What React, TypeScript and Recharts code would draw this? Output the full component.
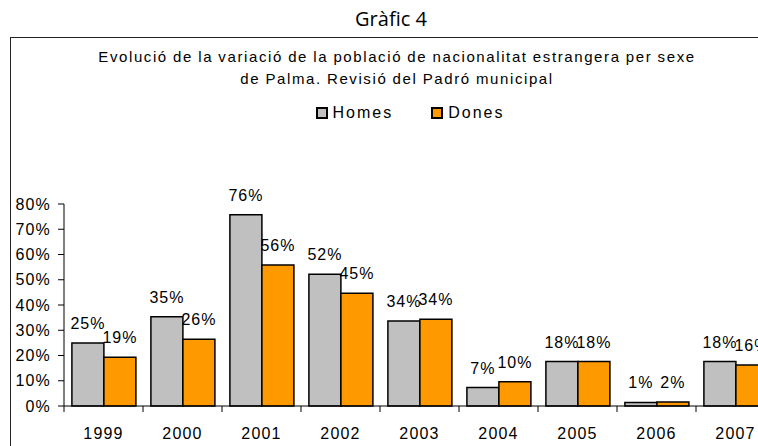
import React from 'react';
import { BarChart, Bar, XAxis, YAxis, LabelList, Legend } from 'recharts';

const years = ['1999', '2000', '2001', '2002', '2003', '2004', '2005', '2006', '2007'];
const homes = [25.0, 35.3, 75.7, 52.2, 33.7, 7.3, 17.6, 1.4, 17.6];
const dones = [19.3, 26.4, 55.8, 44.7, 34.4, 9.6, 17.6, 1.6, 16.2];
const yTicks = [0, 10, 20, 30, 40, 50, 60, 70, 80];
const seriesNames = ['Homes', 'Dones'];
const colors = ['#C0C0C0', '#FF9900'];

const data = years.map((y, i) => ({ year: y, Homes: homes[i], Dones: dones[i] }));

const FONT = '"Liberation Sans", Arial, sans-serif';

const XTick = (props: any) => {
  const { x, y, payload } = props;
  const off = payload.offset || 0;
  return (
    <g>
      <line x1={x - off} x2={x - off} y1={y} y2={y + 6} stroke="#000" strokeWidth={1} />
      <text x={x} y={y + 33} textAnchor="middle" fontSize={16} fontFamily={FONT} fill="#000" letterSpacing={1.2}>
        {payload.value}
      </text>
    </g>
  );
};

const LegendContent = () => (
  <div style={{ display: 'flex', justifyContent: 'center', fontFamily: FONT, fontSize: 16, lineHeight: '16px', color: '#000' }}>
    {seriesNames.map((n, i) => (
      <div key={n} style={{ display: 'flex', alignItems: 'center', marginRight: i === 0 ? 38 : 0 }}>
        <span style={{ display: 'inline-block', boxSizing: 'border-box', width: 12, height: 12, background: colors[i], border: '2px solid #000', marginRight: 5 }} />
        <span style={{ letterSpacing: 2 }}>{n}</span>
      </div>
    ))}
  </div>
);

export default function App() {
  return (
    <div style={{ position: 'absolute', left: 0, top: 0, width: 758, height: 446, overflow: 'hidden', background: '#fff' }}>
      <div style={{ position: 'absolute', left: 0, top: 9, width: 782, textAlign: 'center', fontFamily: '"Open Sans", sans-serif', fontSize: 20, lineHeight: '20px', color: '#000' }}>
        Gràfic 4
      </div>
      <div style={{ position: 'absolute', left: 10, top: 37, width: 800, height: 500, borderLeft: '1.5px solid #222', borderTop: '1.5px solid #222' }} />
      <div style={{ position: 'absolute', left: 0, top: 46, width: 794, textAlign: 'center', fontFamily: FONT, fontSize: 15, lineHeight: '22px', letterSpacing: 1.6, wordSpacing: -0.5, color: '#000' }}>
        Evolució de la variació de la població de nacionalitat estrangera per sexe<br />de Palma. Revisió del Padró municipal
      </div>
      <div style={{ position: 'absolute', left: 0, top: 0 }}>
        <BarChart width={790} height={446} data={data} margin={{ top: 188, right: 15, left: 0, bottom: 0 }} barCategoryGap="10%" barGap={0}>
          <XAxis dataKey="year" axisLine={{ stroke: '#000', strokeWidth: 1 }} tickLine={false} tickSize={0} tickMargin={0} height={40} tick={<XTick />} interval={0} />
          <YAxis domain={[0, 80]} ticks={yTicks} width={64} tickFormatter={(v: number) => `${v}%`} axisLine={{ stroke: '#000' }} tickLine={{ stroke: '#000' }} tickSize={6} tickMargin={7} tick={{ fontSize: 16, fontFamily: FONT, fill: '#000', letterSpacing: 1.2 }} interval={0} />
          <Legend verticalAlign="top" content={<LegendContent />} wrapperStyle={{ position: 'absolute', top: 105, left: 0, width: 820 }} />
          {seriesNames.map((n, i) => (
            <Bar key={n} dataKey={n} fill={colors[i]} stroke="#000" strokeWidth={1.5} isAnimationActive={false}>
              <LabelList dataKey={n} position="top" offset={14} formatter={(v: number) => `${Math.round(v)}%`} style={{ fontSize: 16, fontFamily: FONT, fill: '#000', letterSpacing: 1 }} />
            </Bar>
          ))}
        </BarChart>
      </div>
    </div>
  );
}
